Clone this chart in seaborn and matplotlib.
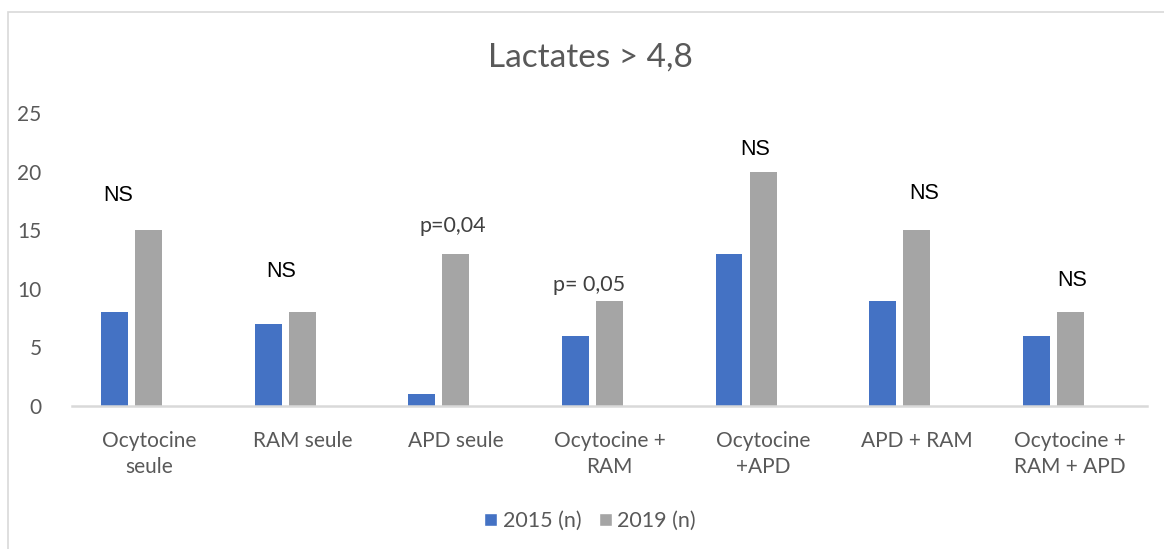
import matplotlib
matplotlib.use("Agg")
import matplotlib.pyplot as plt
import seaborn as sns
import pandas as pd
from matplotlib.patches import Rectangle, Patch

categories = ["Ocytocine\nseule", "RAM seule", "APD seule", "Ocytocine +\nRAM",
              "Ocytocine\n+APD", "APD + RAM", "Ocytocine +\nRAM + APD"]
values_2015 = [8, 7, 1, 6, 13, 9, 6]
values_2019 = [15, 8, 13, 9, 20, 15, 8]
series_names = ["2015 (n)", "2019 (n)"]
annotations = ["NS", "NS", "p=0,04", "p= 0,05", "NS", "NS", "NS"]
annot_y = [18.0, 11.5, 15.4, 10.3, 21.9, 18.1, 10.75]
annot_dx = [-0.2, -0.135, -0.02, -0.134, -0.05, 0.05, 0.01]

rows = []
for c, a, b in zip(categories, values_2015, values_2019):
    rows.append({"cat": c, "serie": series_names[0], "val": a})
    rows.append({"cat": c, "serie": series_names[1], "val": b})
    rows.append({"cat": c, "serie": "_empty", "val": 0})
df = pd.DataFrame(rows)

sns.set_theme(style="white")
plt.rcParams['font.family'] = ['Lato', 'DejaVu Sans']

fig = plt.figure(figsize=(11.64, 5.49), dpi=100)
ax = fig.add_axes([72/1164, 1-406/549, (1147-72)/1164, (406-113)/549])

palette = {series_names[0]: "#4472C4", series_names[1]: "#A5A5A5", "_empty": "white"}
sns.barplot(data=df, x="cat", y="val", hue="serie",
            hue_order=[series_names[0], series_names[1], "_empty"],
            palette=palette, width=0.665, gap=0.21, linewidth=0,
            saturation=1, ax=ax, legend=False)

ax.set_ylim(0, 25)
ax.set_yticks([0, 5, 10, 15, 20, 25])
ax.set_xlim(-0.5, len(categories) - 0.5)
ax.set_xlabel("")
ax.set_ylabel("")
for s in ["top", "right", "left"]:
    ax.spines[s].set_visible(False)
ax.spines["bottom"].set_color("#D9D9D9")
ax.spines["bottom"].set_linewidth(1.8)
ax.tick_params(axis="y", length=0, pad=22, labelsize=15, labelcolor="#595959")
ax.tick_params(axis="x", length=0, pad=18, labelsize=15, labelcolor="#595959")
for lab in ax.get_xticklabels():
    lab.set_linespacing(1.35)

for i, (txt, y, dx) in enumerate(zip(annotations, annot_y, annot_dx)):
    if txt == "NS":
        ax.text(i + dx, y, txt, ha="center", va="center", fontsize=15.5,
                color="black", family=["Liberation Sans", "DejaVu Sans"])
    else:
        ax.text(i + dx, y, txt, ha="center", va="center", fontsize=15.5,
                color="#404040")

fig.text(590/1164, 1-58/549, "Lactates > 4,8", ha="center", va="center",
         fontsize=24, color="#595959")

handles = [Patch(facecolor="#4472C4", label=series_names[0]),
           Patch(facecolor="#A5A5A5", label=series_names[1])]
fig.legend(handles=handles, loc="center", bbox_to_anchor=(590/1164, 1-521/549),
           ncol=2, frameon=False, fontsize=15.5, handlelength=0.6, handleheight=0.6,
           handletextpad=0.25, columnspacing=0.8, labelcolor="#595959")

fig.patches.append(Rectangle((8/1164, -0.1), 1.2, 1.1 - 12/549,
                             transform=fig.transFigure, fill=False,
                             edgecolor="#D9D9D9", linewidth=1.2))

fig.savefig("out.png", dpi=100)
